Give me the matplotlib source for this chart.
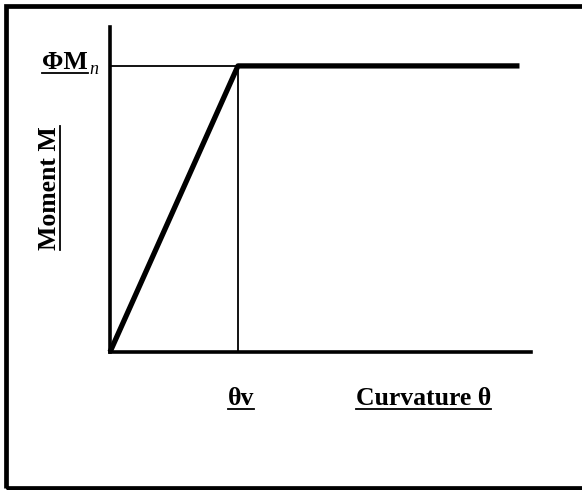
import matplotlib
matplotlib.use("Agg")
from matplotlib import pyplot as plt
from matplotlib.patches import Rectangle
from matplotlib.lines import Line2D

# moment-curvature idealisation (theta_y = 1, Mn = 1)
curvature = [0.0, 1.0, 3.2]
moment = [0.0, 1.0, 1.0]
theta_y = curvature[1]
phi_mn = moment[1]

W, H = 582, 490
fig = plt.figure(figsize=(W / 100, H / 100), dpi=100)
plt.rcParams["font.family"] = ["Liberation Serif", "DejaVu Serif"]

# outer frame (right edge runs off the picture)
fig.patches.append(Rectangle((5.5 / W, 2.0 / H), 1.2, 1 - 8.5 / H, transform=fig.transFigure,
                             fill=False, ec="black", lw=3.4, clip_on=False))

ax = fig.add_axes([110 / W, 1 - 352 / H, (531 - 110) / W, (352 - 27) / H])
ax.plot(curvature, moment, color="black", lw=3.8, solid_capstyle="butt", clip_on=False)
ax.plot([0, theta_y], [phi_mn, phi_mn], color="black", lw=1.3)
ax.plot([theta_y, theta_y], [0, phi_mn], color="black", lw=1.3)
ax.set_xlim(0, 3.29)
ax.set_ylim(0, 1.136)
for s in ["top", "right"]:
    ax.spines[s].set_visible(False)
for s in ["left", "bottom"]:
    ax.spines[s].set_linewidth(2.6)
ax.set_xticks([])
ax.set_yticks([])
ax.patch.set_alpha(0)

def ftext(x, y, s, **kw):
    return fig.text(x / W, 1 - y / H, s, **kw)

fs = 18.5
labels = []
labels.append(ftext(42, 69, "ΦM", fontsize=fs, fontweight="bold", va="baseline"))
ftext(89, 74, "n", fontsize=13, fontstyle="italic", va="baseline")
labels.append(ftext(228, 405, "θv", fontsize=fs, fontweight="bold", va="baseline"))
labels.append(ftext(356, 405, "Curvature θ", fontsize=fs, fontweight="bold", va="baseline"))
ylab = ftext(61, 188, "Moment M", fontsize=fs, fontweight="bold", rotation=90,
             ha="right", va="center")

fig.canvas.draw()
r = fig.canvas.get_renderer()
inv = fig.transFigure.inverted()
for t in labels:
    bb = t.get_window_extent(r)
    (x0, y0), (x1, y1) = inv.transform([[bb.x0, bb.y0], [bb.x1, bb.y1]])
    yb = y0 + 1.0 / H
    fig.add_artist(Line2D([x0, x1], [yb, yb], transform=fig.transFigure, color="black", lw=1.3))
bb = ylab.get_window_extent(r)
(x0, y0), (x1, y1) = inv.transform([[bb.x0, bb.y0], [bb.x1, bb.y1]])
xr = x1 - 1.0 / W
fig.add_artist(Line2D([xr, xr], [y0, y1], transform=fig.transFigure, color="black", lw=1.3))

fig.savefig("out.png", dpi=100)
